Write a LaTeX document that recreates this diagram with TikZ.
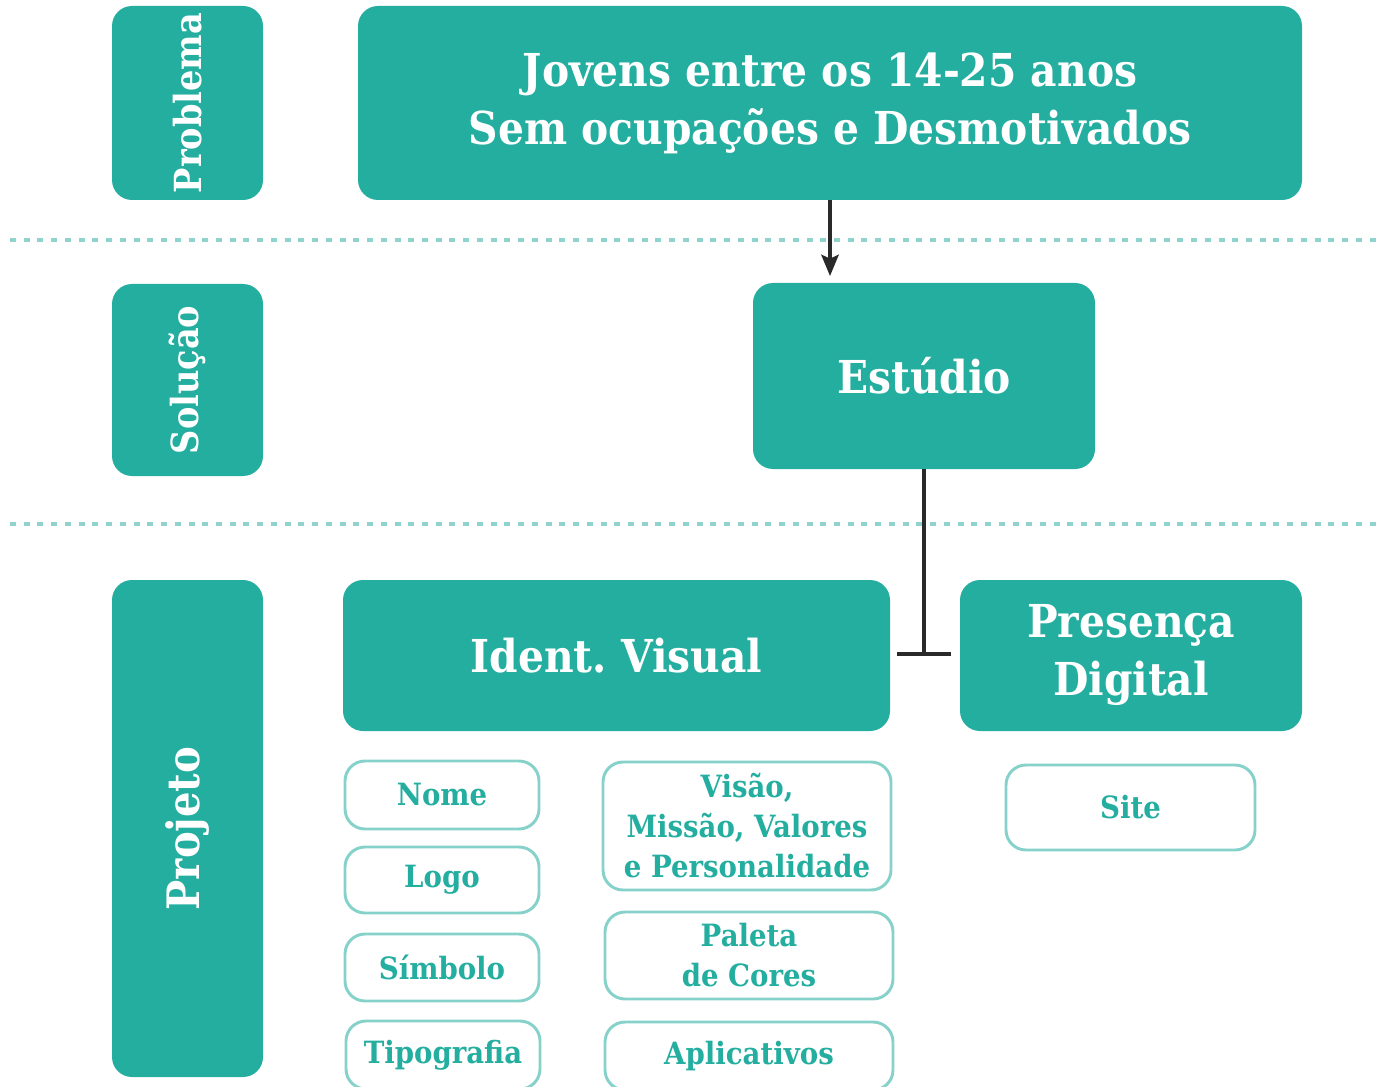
\documentclass[tikz,border=0pt]{standalone}
\usepackage{fontspec}
\setmainfont{DejaVu Serif}[FakeStretch=0.9]
\usetikzlibrary{arrows.meta}
\frenchspacing
\definecolor{teal1}{HTML}{23AEA0}
\definecolor{teal2}{HTML}{86D2CA}
\definecolor{dotc}{HTML}{8FD3CC}
\definecolor{linec}{HTML}{2A2A2A}
\tikzset{
  bigbox/.style={fill=teal1, draw=none, rounded corners=15pt, inner sep=0pt, text=white, align=center,
     font=\fontsize{34}{43.5}\selectfont\bfseries},
  labelbox/.style={fill=teal1, draw=none, rounded corners=15pt, inner sep=0pt, text=white, rotate=90,
     minimum height=113.25pt, font=\fontsize{28}{30}\selectfont\bfseries},
  smallbox/.style={fill=white, draw=teal2, line width=2.2pt, rounded corners=15pt, inner sep=0pt, text=teal1,
     align=center, font=\fontsize{23}{30}\selectfont\bfseries},
  sepline/.style={dotc, line width=3pt, dash pattern=on 4.5pt off 5.8pt},
  conn/.style={linec, line width=3pt}
}
\begin{document}
\begin{tikzpicture}[x=0.75pt,y=-0.75pt]
\useasboundingbox (0,0) rectangle (1377,1087);
% separators
\draw[sepline] (10,240) -- (1377,240);
\draw[sepline] (10,524) -- (1377,524);
% labels
\node[labelbox, minimum width=145.5pt] (prob) at (187.5,103) {Problema};
\node[labelbox, minimum width=144pt] (sol) at (187.5,380) {Solução};
\node[labelbox, minimum width=372.75pt, font=\fontsize{33.5}{30}\selectfont\bfseries] (proj) at (187.5,828.5) {Projeto};
% big boxes
\node[bigbox, minimum width=708pt, minimum height=145.5pt] (top) at (830,103) {Jovens entre os 14-25 anos\\Sem ocupações e Desmotivados};
\node[bigbox, minimum width=256.5pt, minimum height=139.5pt] (est) at (924,376) {Estúdio};
\node[bigbox, minimum width=410.25pt, minimum height=113.25pt] (ident) at (616.5,655.5) {Ident. Visual};
\node[bigbox, minimum width=256.5pt, minimum height=113.25pt] (pres) at (1131,655.5) {Presença\\Digital};
% small boxes
\node[smallbox, minimum width=145.5pt, minimum height=51pt] (nome) at (442,795) {Nome};
\node[smallbox, minimum width=145.5pt, minimum height=49.5pt] (logo) at (442,880) {Logo};
\node[smallbox, minimum width=145.5pt, minimum height=50.25pt] (simb) at (442,967.5) {Símbolo};
\node[smallbox, minimum width=145.5pt, minimum height=51pt] (tipo) at (443,1055) {Tipografia};
\node[smallbox, minimum width=216pt, minimum height=96pt] (vis) at (747,826) {Visão,\\Missão, Valores\\e Personalidade};
\node[smallbox, minimum width=216pt, minimum height=65.25pt] (pal) at (749,955.5) {Paleta\\de Cores};
\node[smallbox, minimum width=216pt, minimum height=51pt] (apl) at (749,1056) {Aplicativos};
\node[smallbox, minimum width=186.75pt, minimum height=63.75pt] (site) at (1130.5,807.5) {Site};
% connectors
\draw[conn, -{Stealth[length=16pt,width=13pt,inset=3pt]}, shorten >=5pt] (top.south) -- (top.south |- est.north);
\draw[conn, -{Bar[width=41pt,line width=3pt]}] (est.south) -- (est.south |- ident.east);
\end{tikzpicture}
\end{document}
